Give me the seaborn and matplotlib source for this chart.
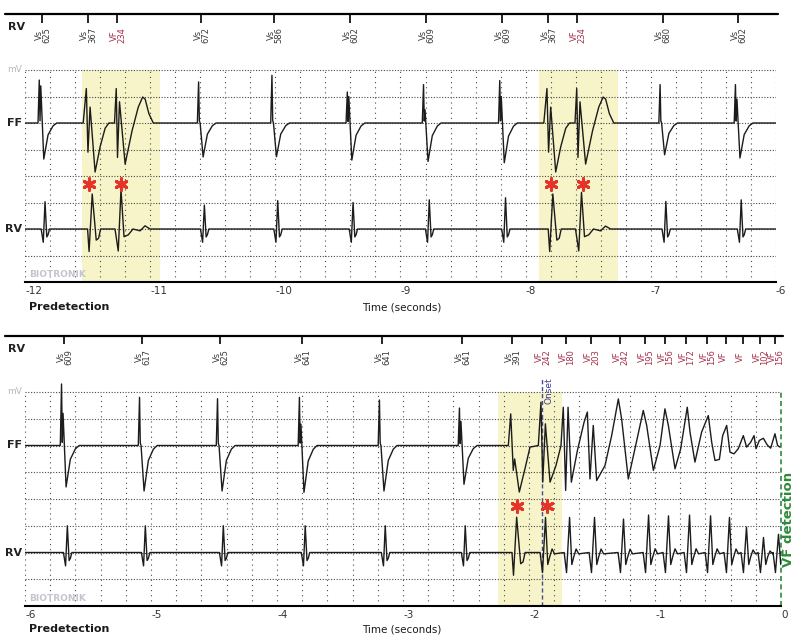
import numpy as np
import pandas as pd
import matplotlib.pyplot as plt
import matplotlib.transforms as mtransforms
import seaborn as sns

W, H = 796, 641

# ---- upper strip: -12 .. -6 s ----
top_marker_t = [-11.866, -11.50, -11.265, -10.593, -10.007, -9.405,
                -8.796, -8.187, -7.82, -7.586, -6.906, -6.304]
top_marker_kind = ["Vs", "Vs", "VF", "Vs", "Vs", "Vs", "Vs", "Vs", "Vs", "VF", "Vs", "Vs"]
top_marker_val = ["625", "367", "234", "672", "586", "602", "609", "609", "367", "234", "680", "602"]
top_beat_type = ["sinus", "pvc_a", "pvc_b", "sinus", "sinus", "sinus",
                 "sinus", "sinus", "pvc_a", "pvc_b", "sinus", "sinus"]
top_ff_peak = [1.62, 1, 1, 1.55, 1.8, 1.17, 1.45, 1.6, 1, 1, 1.45, 1.45]
top_ff_notch = [1.4, 0, 0, 0, 0, 1.0, 0.5, 1.0, 0, 0, 0, 0.9]
top_ff_trough = [1.36, 1, 1, 1.28, 1.27, 1.4, 1.45, 1.5, 1, 1, 1.2, 1.32]
top_rv_amp = [1.03, 1, 1, 0.9, 1.07, 1.0, 1.1, 1.18, 1, 0.92, 1.04, 1.1]
top_highlight = [(-11.544, -10.92), (-7.896, -7.264)]
top_stars_t = [-11.488, -11.232, -7.80, -7.542]
top_stars_y = [3.7, 3.7, 3.7, 3.7]

# ---- lower strip: -6 .. 0 s ----
bot_marker_t = [-5.690, -5.071, -4.452, -3.802, -3.167, -2.532, -2.135, -1.897,
                -1.706, -1.508, -1.278, -1.079, -0.921, -0.754, -0.587, -0.437,
                -0.302, -0.167, -0.048]
bot_marker_kind = ["Vs"] * 7 + ["VF"] * 12
bot_marker_val = ["609", "617", "625", "641", "641", "641", "391", "242", "180", "203",
                  "242", "195", "156", "172", "156", " ", " ", "102", "156"]
bot_beat_type = ["sinus"] * 6 + ["pvc_a"] + ["vf"] * 12
bot_ff_peak = [2.3, 1.8, 1.75, 1.8, 1.7, 1.4]
bot_ff_notch = [1.2, 0, 0, 0.8, 0, 0.9]
bot_ff_trough = [1.55, 1.7, 1.7, 1.75, 1.7, 1.45]
bot_rv_amp = [1.0, 1.0, 1.0, 1.0, 1.0, 1.0, 1.0,
              1.31, 1.31, 1.31, 1.25, 1.4, 1.37, 1.4, 1.37, 1.31, 0.95, 0.56, 0.68]
# far-field trace from the premature beats into VF, read point by point
bot_ff_vf_t = [-2.230, -2.164, -2.145, -2.125, -2.114, -2.077, -2.032, -1.992, -1.926, -1.905,
               -1.891, -1.870, -1.833, -1.786, -1.746, -1.728, -1.709, -1.690, -1.664, -1.616,
               -1.563, -1.537, -1.516, -1.490, -1.463, -1.397, -1.344, -1.291, -1.265, -1.212,
               -1.159, -1.093, -1.066, -1.013, -0.960, -0.921, -0.894, -0.841, -0.796, -0.744,
               -0.722, -0.683, -0.630, -0.577, -0.550, -0.524, -0.489, -0.463, -0.431, -0.405,
               -0.373, -0.339, -0.299, -0.273, -0.241, -0.214, -0.198, -0.172, -0.140, -0.109,
               -0.082, -0.048, -0.027, -0.008]
bot_ff_vf_v = [0, 0, 1.18, -0.93, -0.5, -1.74, -0.87, -0.06, 0, 1.62,
               -1.37, 0.81, -1.37, -0.75, 0, 1.43, -1.68, 1.43, -1.37, -0.19,
               0.87, 1.25, -1.25, 0.75, -1.31, -0.75, 0.37, 1.74, 1.0, -1.25,
               -0.12, 1.31, 0.75, -0.93, 0, 1.37, 0.75, -0.87, -0.12, 1.43,
               0.5, -0.62, 0.5, 1.12, 0.12, -0.56, -0.52, 0.37, 0.75, -0.25,
               -0.31, -0.12, 0.37, -0.06, 0.12, 0.37, -0.12, 0.19, 0.27, 0.02,
               -0.1, 0.44, 0, -0.06]
bot_highlight = [(-2.246, -1.738)]
bot_stars_t = [-2.093, -1.860]
bot_stars_y = [3.74, 3.74]
onset_t = -1.897

# beat shapes (offset from marker in s, value in grid units)
FF_TEMPLATES = {
    "sinus": ([-0.03, -0.02, -0.014, -0.008, 0.016, 0.05, 0.09, 0.12],
              [0, 1, 0.05, 0, -1, -0.33, -0.08, 0]),
    "pvc_a": ([-0.035, -0.01, 0.003, 0.02, 0.06, 0.10, 0.14, 0.17],
              [0, 1.3, -1.1, 0.6, -1.85, -0.9, -0.2, 0]),
    "pvc_b": ([-0.02, -0.006, 0.004, 0.02, 0.065, 0.12, 0.17, 0.205, 0.225, 0.255, 0.29],
              [0, 1.3, -1.3, 0.8, -1.55, -0.3, 0.6, 0.98, 0.9, 0.35, 0]),
}
RV_TEMPLATES = {
    "sinus": ([-0.005, 0.012, 0.026, 0.04, 0.05, 0.062],
              [0, -0.5, 1.0, -0.3, -0.22, 0]),
    "pvc_a": ([0.0, 0.012, 0.037, 0.069, 0.088, 0.104],
              [0, -0.85, 1.32, -0.42, -0.35, 0]),
    "pvc_b": ([-0.016, 0.01, 0.032, 0.056, 0.09, 0.128, 0.184, 0.224, 0.264],
              [0, -0.83, 1.5, -0.29, -0.22, 0, -0.07, 0.12, 0]),
    "vf": ([-0.015, 0.004, 0.028, 0.046, 0.062, 0.08, 0.1],
           [0, -0.75, 1.0, -0.45, -0.15, 0.1, -0.05]),
}

TRACE = "#1c1c1c"
YELLOW = "#f6f4c8"
DOTS = "#4a4a4a"
VS_COL = "#3a3a3a"
VF_COL = "#a3304a"


def build_trace(times, kinds, templates, t_start, peaks=None, troughs=None, notches=None):
    ts, vs = [t_start], [0.0]
    for i, (t0, k) in enumerate(zip(times, kinds)):
        if k not in templates:
            continue
        dts, shape = templates[k]
        shape = np.asarray(shape, float)
        p = peaks[i] if peaks is not None and i < len(peaks) else 1.0
        d = troughs[i] if troughs is not None and i < len(troughs) else 1.0
        vals = np.where(shape > 0, shape * p, shape * d)
        if notches is not None and k == "sinus" and i < len(notches):
            vals[3] = notches[i]
        ts.extend(t0 + np.asarray(dts))
        vs.extend(vals)
    return ts, vs


def draw_panel(ax, x0, x1, m_t, m_kind, m_val, spans, ff, rv, stars_t, stars_y):
    ax.set_xlim(x0, x1)
    ax.set_ylim(0, 10.1)
    for a, b in spans:
        ax.axvspan(a, b, ymin=0, ymax=8 / 10.1, color=YELLOW, lw=0, zorder=0)
    for y in range(1, 9):
        ax.axhline(y, color=DOTS, lw=0.8, ls=(0, (1, 1.5)), zorder=1)
    for x in np.arange(x0, x1 + 1e-6, 0.2):
        ax.axvline(x, ymin=0, ymax=8 / 10.1, color=DOTS, lw=0.8, ls=(0, (1, 3.6)), zorder=1)

    for offset, (t, v) in zip([6, 2], [ff, rv]):
        df = pd.DataFrame({"t": t, "v": np.asarray(v) + offset})
        sns.lineplot(data=df, x="t", y="v", ax=ax, sort=False, estimator=None,
                     color=TRACE, linewidth=1.0, zorder=3)

    sns.scatterplot(x=stars_t, y=stars_y, ax=ax, marker=(6, 2, 0), s=70,
                    color="#e5332a", edgecolor="#e5332a", linewidth=2.2, zorder=4)

    # marker channel
    ax.vlines(m_t, 9.78, 10.1, color="black", lw=1.2, clip_on=False)
    for t, k, v in zip(m_t, m_kind, m_val):
        ax.text(t + 0.008, 9.31, f"{k}\n{v}", rotation=90, ha="center", va="center",
                fontsize=6, linespacing=0.78, multialignment="center",
                color=VF_COL if k == "VF" else VS_COL)
    ax.plot([-0.027, 1.003], [1, 1], transform=ax.transAxes, color="black",
            lw=1.6, clip_on=False)

    trans = mtransforms.blended_transform_factory(ax.transAxes, ax.transData)
    ax.text(-0.004, 6, "FF", transform=trans, ha="right", va="center",
            fontsize=8, fontweight="bold", color="#222")
    ax.text(-0.004, 2, "RV", transform=trans, ha="right", va="center",
            fontsize=8, fontweight="bold", color="#222")
    ax.text(-0.004, 8, "mV", transform=trans, ha="right", va="center",
            fontsize=6.5, color="#b8b8b8")
    ax.text(-0.023, 9.62, "RV", transform=trans, ha="left", va="center",
            fontsize=8, fontweight="bold", color="#222")
    ax.text(0.005, 0.27, "BIOTRONIK", transform=trans, ha="left", va="center",
            fontsize=6.5, fontweight="bold", color="#c4c4cf")

    ticks = np.arange(x0, x1 + 1e-6, 1.0)
    ax.set_xticks(ticks)
    ax.set_xticklabels([f"{int(round(t))}" for t in ticks], ha="left")
    ax.tick_params(axis="x", direction="out", length=9.5, width=1.2, pad=-6.5,
                   labelsize=7.5, labelcolor="#333", color="black")
    ax.set_yticks([])
    ax.set_xlabel("")
    ax.set_ylabel("")
    for side in ["top", "left", "right"]:
        ax.spines[side].set_visible(False)
    ax.spines["bottom"].set_color("black")
    ax.spines["bottom"].set_linewidth(1.5)
    ax.set_facecolor("white")


sns.set_style("white")
plt.rcParams["font.family"] = ["DejaVu Sans"]
plt.rcParams["axes.unicode_minus"] = False

fig = plt.figure(figsize=(W / 100, H / 100), dpi=100)


def px_rect(x0, x1, y_bottom, unit):
    top = y_bottom - 10.1 * unit
    return [x0 / W, 1 - y_bottom / H, (x1 - x0) / W, (y_bottom - top) / H]


ax_top = fig.add_axes(px_rect(25, 776, 282, 26.5))
ax_bot = fig.add_axes(px_rect(25, 781, 606, 26.75))

# upper traces
ff_t, ff_v = build_trace(top_marker_t, top_beat_type, FF_TEMPLATES, -12.0,
                         top_ff_peak, top_ff_trough, top_ff_notch)
ff_t.append(-6.0); ff_v.append(0.0)
rv_t, rv_v = build_trace(top_marker_t, top_beat_type, RV_TEMPLATES, -12.0, top_rv_amp)
rv_t.append(-6.0); rv_v.append(0.0)
draw_panel(ax_top, -12, -6, top_marker_t, top_marker_kind, top_marker_val,
           top_highlight, (ff_t, ff_v), (rv_t, rv_v), top_stars_t, top_stars_y)

# lower traces
bff_t, bff_v = build_trace(bot_marker_t[:6], bot_beat_type[:6], FF_TEMPLATES, -6.0,
                           bot_ff_peak, bot_ff_trough, bot_ff_notch)
bff_t.extend(bot_ff_vf_t); bff_v.extend(bot_ff_vf_v)
brv_t, brv_v = build_trace(bot_marker_t, bot_beat_type, RV_TEMPLATES, -6.0, bot_rv_amp)
brv_t.append(0.0); brv_v.append(0.0)
draw_panel(ax_bot, -6, 0, bot_marker_t, bot_marker_kind, bot_marker_val,
           bot_highlight, (bff_t, bff_v), (brv_t, brv_v), bot_stars_t, bot_stars_y)

# onset / detection annotations
ax_bot.vlines(onset_t, 0, 8.5, color="#4a4a9a", lw=1.0, linestyles=(0, (3, 2)), zorder=2)
ax_bot.text(onset_t + 0.02, 8.05, "Onset", rotation=90, ha="left", va="center",
            fontsize=6.5, color="#3d3d8f")
ax_bot.vlines(0, 0, 8, color="#2f8a3a", lw=1.2, linestyles=(0, (3, 2)), zorder=2, clip_on=False)
fig.text(788 / W, 1 - 519 / H, "VF detection", rotation=90, ha="center", va="center",
         fontsize=9.5, fontweight="bold", color="#2f8a3a")

for y in (307, 629):
    fig.text(29 / W, 1 - y / H, "Predetection", ha="left", va="center",
             fontsize=8, fontweight="bold", color="#1a1a1a")
    fig.text(402 / W, 1 - y / H, "Time (seconds)", ha="center", va="center",
             fontsize=7.5, color="#1a1a1a")

fig.savefig("out.png", dpi=100, facecolor="white")
